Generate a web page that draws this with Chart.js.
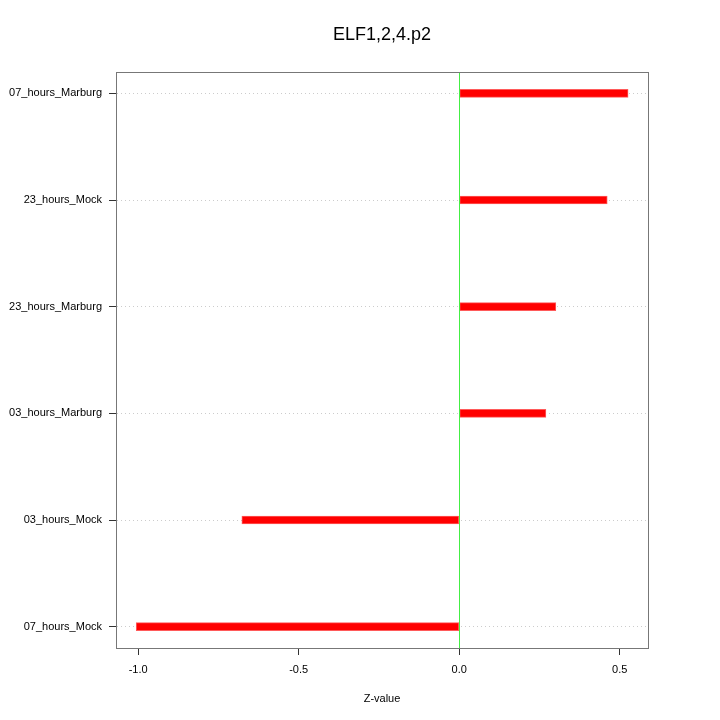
<!DOCTYPE html>
<html>
<head>
<meta charset="utf-8">
<script src="https://cdn.jsdelivr.net/npm/chart.js@4/dist/chart.umd.min.js"></script>
<style>
  html, body { margin: 0; padding: 0; background: #fff; }
  #wrap { width: 720px; height: 720px; }
</style>
</head>
<body>
<div id="wrap"><canvas id="js-z-chart"></canvas></div>
<script>
// rows top to bottom
var labels = ['07_hours_Marburg', '23_hours_Mock', '23_hours_Marburg', '03_hours_Marburg', '03_hours_Mock', '07_hours_Mock'];
var zValues = [0.526, 0.461, 0.301, 0.27, -0.677, -1.006];
var xTicks = [-1.0, -0.5, 0.0, 0.5];
var chartTitle = 'ELF1,2,4.p2';

var font = "'Liberation Sans', Arial, Helvetica, sans-serif";

// R style extras: box round the plot, green line at zero, title centred over the plot
var rStylePlugin = {
  id: 'rStyle',
  afterDatasetsDraw: chart => {
    var a = chart.chartArea;
    var c = chart.ctx;
    var x0 = Math.round(chart.scales.x.getPixelForValue(0)) + 0.5;
    c.save();
    c.strokeStyle = '#44ee44';
    c.lineWidth = 1;
    c.beginPath();
    c.moveTo(x0, a.top);
    c.lineTo(x0, a.bottom);
    c.stroke();
    c.restore();
  },
  afterDraw: chart => {
    var a = chart.chartArea;
    var c = chart.ctx;
    c.save();
    c.strokeStyle = '#777';
    c.lineWidth = 1;
    c.strokeRect(Math.round(a.left) + 0.5, Math.round(a.top) + 0.5, Math.round(a.right - a.left), Math.round(a.bottom - a.top));
    c.fillStyle = '#000';
    c.font = '18px ' + font;
    c.textAlign = 'center';
    c.textBaseline = 'middle';
    c.fillText(chartTitle, (a.left + a.right) / 2, 35);
    c.restore();
  }
};

var ctx = document.getElementById('js-z-chart').getContext('2d');
var zChart = new Chart(ctx, {
  type: 'bar',
  data: {
    datasets: [{
      data: zValues.map((v, i) => ({ x: v, y: i })),
      backgroundColor: '#ff0000',
      borderColor: 'rgba(255,90,90,1)',
      borderWidth: 1,
      borderSkipped: false,
      barThickness: 8
    }]
  },
  plugins: [rStylePlugin],
  options: {
    indexAxis: 'y',
    responsive: true,
    maintainAspectRatio: false,
    animation: false,
    layout: { padding: { left: 0, right: 72, top: 72, bottom: 0 } },
    plugins: {
      legend: { display: false },
      tooltip: { enabled: false },
      title: { display: false }
    },
    scales: {
      x: {
        type: 'linear',
        min: -1.069,
        max: 0.588,
        afterBuildTicks: scale => { scale.ticks = xTicks.map(v => ({ value: v })); },
        afterFit: scale => { scale.height = 72; },
        border: { display: true, color: '#555', width: 1 },
        grid: {
          drawOnChartArea: false,
          tickColor: '#333',
          tickLength: 7
        },
        ticks: {
          color: '#000',
          padding: 8,
          font: { family: font, size: 11 },
          callback: v => Number(v).toFixed(1)
        },
        title: {
          display: true,
          text: 'Z-value',
          color: '#000',
          font: { family: font, size: 11 },
          padding: { top: 14, bottom: 14 }
        }
      },
      y: {
        type: 'linear',
        reverse: true,
        offset: false,
        min: -0.2,
        max: 5.2,
        afterBuildTicks: scale => { scale.ticks = labels.map((l, i) => ({ value: i })); },
        afterFit: scale => { scale.width = 116; },
        border: { display: true, color: '#555', width: 1, dash: [1, 3] },
        grid: {
          offset: false,
          drawOnChartArea: true,
          color: '#cccccc',
          tickColor: '#333',
          tickBorderDash: [],
          tickLength: 7
        },
        ticks: {
          color: '#000',
          padding: 7,
          font: { family: font, size: 11 },
          callback: v => labels[v]
        }
      }
    }
  }
});
</script>
</body>
</html>
